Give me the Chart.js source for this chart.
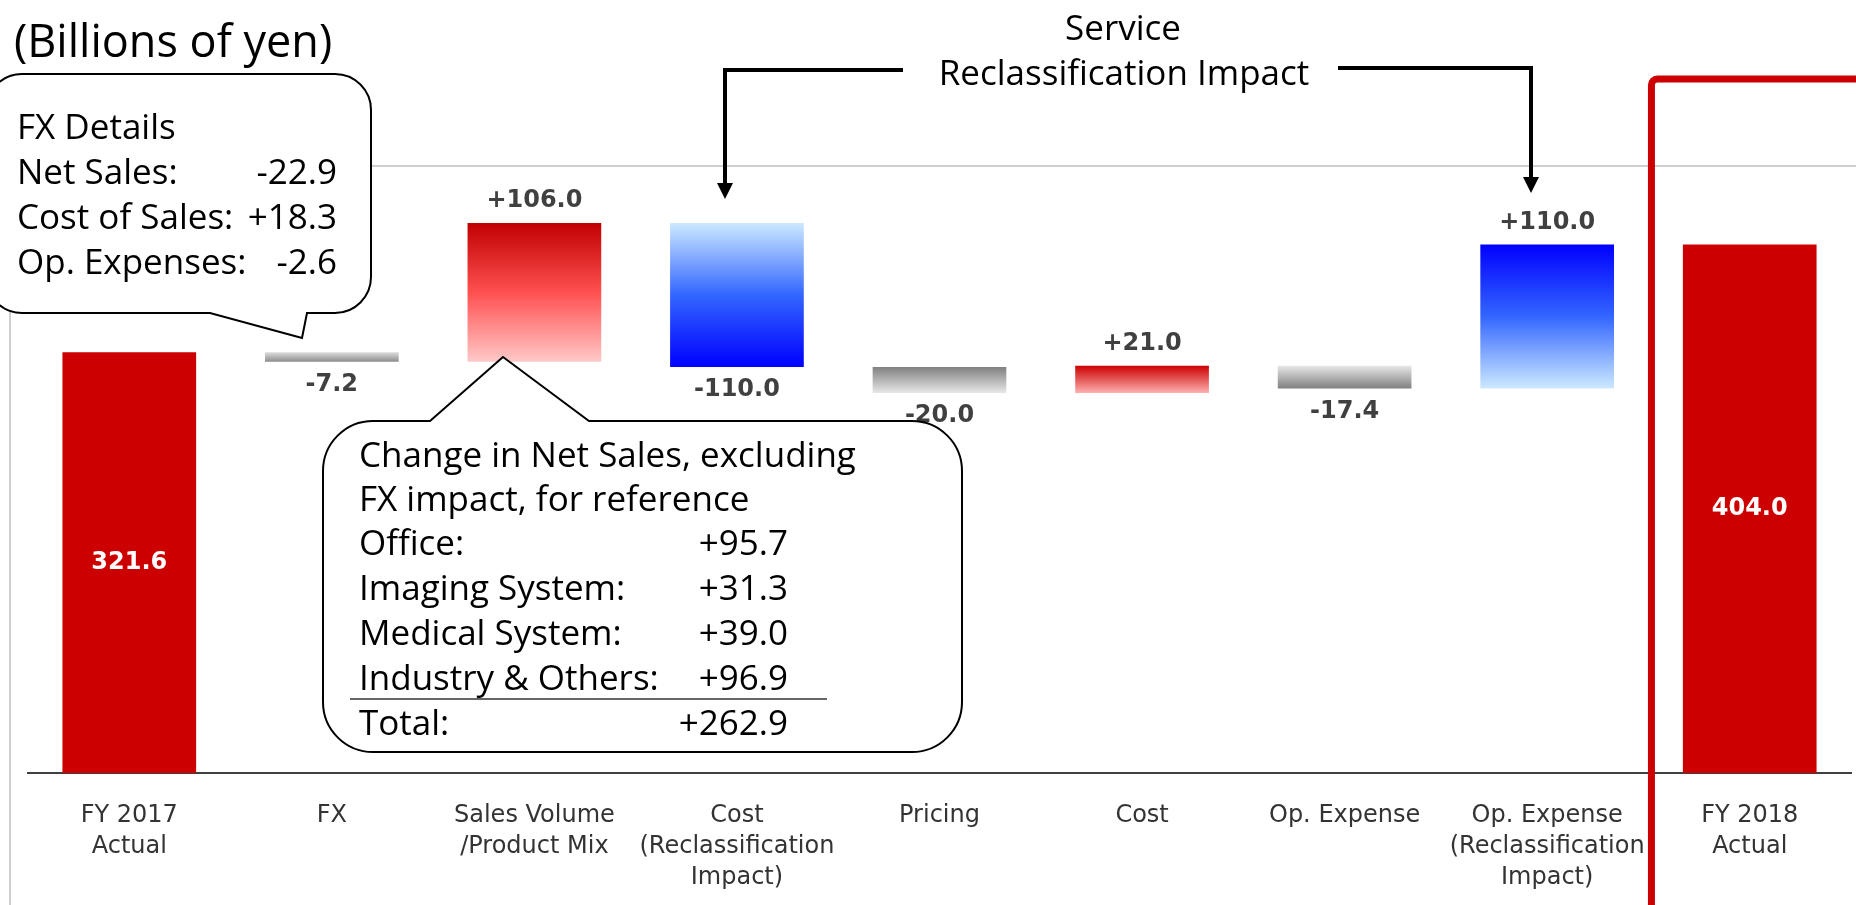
<!DOCTYPE html>
<html>
<head>
<meta charset="utf-8">
<title>Operating income bridge FY2017 - FY2018</title>
<script src="https://cdn.jsdelivr.net/npm/chart.js@4.4.1/dist/chart.umd.min.js"></script>
<style>
  html, body { margin: 0; padding: 0; background: #ffffff; }
  canvas { display: block; }
</style>
</head>
<body>
<canvas id="bridge" width="1856" height="905"></canvas>
<script>
//Categories along the x axis (arrays = multi line labels)
const categories = [
  ["FY 2017", "Actual"],
  "FX",
  ["Sales Volume", "/Product Mix"],
  ["Cost", "(Reclassification", "Impact)"],
  "Pricing",
  "Cost",
  "Op. Expense",
  ["Op. Expense", "(Reclassification", "Impact)"],
  ["FY 2018", "Actual"],
];
//Totals at both ends, changes in between (billions of yen)
const startTotal = 321.6;
const changes = [-7.2, 106.0, -110.0, -20.0, 21.0, -17.4, 110.0];
const endTotal = 404.0;
//FX callout
const fxDetails = [
  ["Net Sales:", "-22.9"],
  ["Cost of Sales:", "+18.3"],
  ["Op. Expenses:", "-2.6"],
];
//Net sales callout
const salesDetails = [
  ["Office:", "+95.7"],
  ["Imaging System:", "+31.3"],
  ["Medical System:", "+39.0"],
  ["Industry & Others:", "+96.9"],
];
const salesTotal = ["Total:", "+262.9"];

//gradient stops for each bar, from top edge to bottom edge
const barFills = [
  ["#cc0000"],
  ["#dcdcdc", "#8c8c8c"],
  ["#c00000", "#ff5050", "#ffc8c8"],
  ["#cce9ff", "#3366ff", "#0000ff"],
  ["#808080", "#e8e8e8"],
  ["#cc0000", "#ffb0b0"],
  ["#e8e8e8", "#808080"],
  ["#0000ff", "#3366ff", "#cce9ff"],
  ["#cc0000"],
];

//floating ranges for the waterfall
let running = startTotal;
const ranges = [[0, startTotal]];
changes.forEach((d) => {
  ranges.push([running, running + d]);
  running += d;
});
ranges.push([0, endTotal]);

const valueText = [startTotal.toFixed(1)]
  .concat(changes.map((d) => (d > 0 ? "+" : "") + d.toFixed(1)))
  .concat([endTotal.toFixed(1)]);

const labelFont = "'DejaVu Sans', Verdana, sans-serif";
const noteFont = "'Open Sans', 'Noto Sans', sans-serif";

//value labels on / next to the bars
const barLabels = {
  id: "barLabels",
  afterDatasetsDraw(chart) {
    const ctx = chart.ctx;
    const bars = chart.getDatasetMeta(0).data;
    ctx.save();
    ctx.font = "bold 24px " + labelFont;
    ctx.textAlign = "center";
    ctx.textBaseline = "middle";
    bars.forEach((bar, i) => {
      const top = Math.min(bar.y, bar.base);
      const bottom = Math.max(bar.y, bar.base);
      if (i === 0 || i === bars.length - 1) {
        ctx.fillStyle = "#ffffff";
        ctx.fillText(valueText[i], bar.x, (top + bottom) / 2);
      } else {
        ctx.fillStyle = "#404040";
        const y = changes[i - 1] > 0 ? top - 22 : bottom + 23;
        ctx.fillText(valueText[i], bar.x, y);
      }
    });
    ctx.restore();
  },
};

//rounded box with a pointed tail on its top or bottom edge
function callout(ctx, x, y, w, h, r, side, b1, tipX, tipY, b2) {
  ctx.beginPath();
  ctx.moveTo(x + r, y);
  if (side === "top") {
    ctx.lineTo(b1, y);
    ctx.lineTo(tipX, tipY);
    ctx.lineTo(b2, y);
  }
  ctx.lineTo(x + w - r, y);
  ctx.arcTo(x + w, y, x + w, y + r, r);
  ctx.lineTo(x + w, y + h - r);
  ctx.arcTo(x + w, y + h, x + w - r, y + h, r);
  if (side === "bottom") {
    ctx.lineTo(b2, y + h);
    ctx.lineTo(tipX, tipY);
    ctx.lineTo(b1, y + h);
  }
  ctx.lineTo(x + r, y + h);
  ctx.arcTo(x, y + h, x, y + h - r, r);
  ctx.lineTo(x, y + r);
  ctx.arcTo(x, y, x + r, y, r);
  ctx.closePath();
  ctx.fillStyle = "#ffffff";
  ctx.fill();
  ctx.strokeStyle = "#000000";
  ctx.lineWidth = 2;
  ctx.stroke();
}

function elbowArrow(ctx, fromX, fromY, cornerX, tipY) {
  ctx.beginPath();
  ctx.moveTo(fromX, fromY);
  ctx.lineTo(cornerX, fromY);
  ctx.lineTo(cornerX, tipY - 14);
  ctx.strokeStyle = "#000000";
  ctx.lineWidth = 4;
  ctx.stroke();
  ctx.beginPath();
  ctx.moveTo(cornerX - 8, tipY - 16);
  ctx.lineTo(cornerX + 8, tipY - 16);
  ctx.lineTo(cornerX, tipY);
  ctx.closePath();
  ctx.fillStyle = "#000000";
  ctx.fill();
}

const frame = {
  id: "frame",
  beforeDraw(chart) {
    const ctx = chart.ctx;
    const top = chart.chartArea.top;
    ctx.save();
    ctx.strokeStyle = "#c0c0c0";
    ctx.lineWidth = 1.5;
    ctx.beginPath();
    ctx.moveTo(10, chart.height);
    ctx.lineTo(10, top);
    ctx.lineTo(chart.width, top);
    ctx.stroke();
    ctx.restore();
  },
  afterDraw(chart) {
    const ctx = chart.ctx;
    const xs = chart.scales.x;
    ctx.save();

    //title
    ctx.fillStyle = "#000000";
    ctx.textBaseline = "alphabetic";
    ctx.textAlign = "left";
    ctx.font = "45px " + noteFont;
    ctx.fillText("(Billions of yen)", 14, 57);

    //service reclassification note + arrows
    ctx.font = "35px " + noteFont;
    ctx.textAlign = "center";
    ctx.fillText("Service", 1123, 40);
    ctx.fillText("Reclassification Impact", 1124, 85);
    elbowArrow(ctx, 903, 70, 725, 199);
    elbowArrow(ctx, 1338, 68, 1531, 193);

    //FX callout
    callout(ctx, -14, 74, 385, 239, 36, "bottom", 210, 302, 338, 307);
    ctx.fillStyle = "#000000";
    ctx.font = "35px " + noteFont;
    ctx.textAlign = "left";
    ctx.fillText("FX Details", 17, 139);
    fxDetails.forEach((row, i) => {
      ctx.textAlign = "left";
      ctx.fillText(row[0], 17, 184 + i * 45);
      ctx.textAlign = "right";
      ctx.fillText(row[1], 337, 184 + i * 45);
    });

    //net sales callout
    callout(ctx, 323, 421, 639, 331, 50, "top", 430, 503, 357, 589);
    ctx.fillStyle = "#000000";
    ctx.textAlign = "left";
    ctx.fillText("Change in Net Sales, excluding", 359, 467);
    ctx.fillText("FX impact, for reference", 359, 511);
    const rows = salesDetails.concat([salesTotal]);
    rows.forEach((row, i) => {
      const y = 555 + i * 45;
      ctx.textAlign = "left";
      ctx.fillText(row[0], 359, y);
      ctx.textAlign = "right";
      ctx.fillText(row[1], 788, y);
    });
    ctx.beginPath();
    ctx.moveTo(350, 699);
    ctx.lineTo(827, 699);
    ctx.strokeStyle = "#333333";
    ctx.lineWidth = 1.5;
    ctx.stroke();

    //red frame round the FY 2018 result
    const fx = (xs.getPixelForValue(7) + xs.getPixelForValue(8)) / 2 + 3;
    const fy = 79;
    ctx.beginPath();
    ctx.moveTo(fx, chart.height + 10);
    ctx.lineTo(fx, fy + 6);
    ctx.arcTo(fx, fy, fx + 6, fy, 6);
    ctx.lineTo(chart.width + 10, fy);
    ctx.strokeStyle = "#cc0000";
    ctx.lineWidth = 7;
    ctx.stroke();

    ctx.restore();
  },
};

const bridgeChart = new Chart(document.getElementById("bridge"), {
  type: "bar",
  plugins: [frame, barLabels],
  data: {
    labels: categories,
    datasets: [
      {
        data: ranges,
        barPercentage: 0.66,
        categoryPercentage: 1,
        borderWidth: 0,
        backgroundColor: (c) => {
          const stops = barFills[c.dataIndex];
          const y = c.chart.scales.y;
          if (stops.length === 1 || !y) return stops[0];
          const r = ranges[c.dataIndex];
          const top = y.getPixelForValue(Math.max(r[0], r[1]));
          const bottom = y.getPixelForValue(Math.min(r[0], r[1]));
          const g = c.chart.ctx.createLinearGradient(0, top, 0, bottom);
          stops.forEach((s, i) => g.addColorStop(i / (stops.length - 1), s));
          return g;
        },
      },
    ],
  },
  options: {
    responsive: false,
    devicePixelRatio: 1,
    animation: false,
    layout: { padding: { left: 28, right: 5, top: 166, bottom: 0 } },
    plugins: {
      legend: { display: false },
      tooltip: { enabled: false },
    },
    scales: {
      x: {
        grid: { display: false },
        border: { display: true, color: "#404040", width: 2 },
        ticks: {
          autoSkip: false,
          maxRotation: 0,
          padding: 19,
          color: "#333333",
          font: { family: labelFont, size: 24, lineHeight: 1.29 },
        },
        afterFit: (scale) => {
          scale.height = 132;
        },
      },
      y: { display: false, min: 0, max: 464 },
    },
  },
});
</script>
</body>
</html>
